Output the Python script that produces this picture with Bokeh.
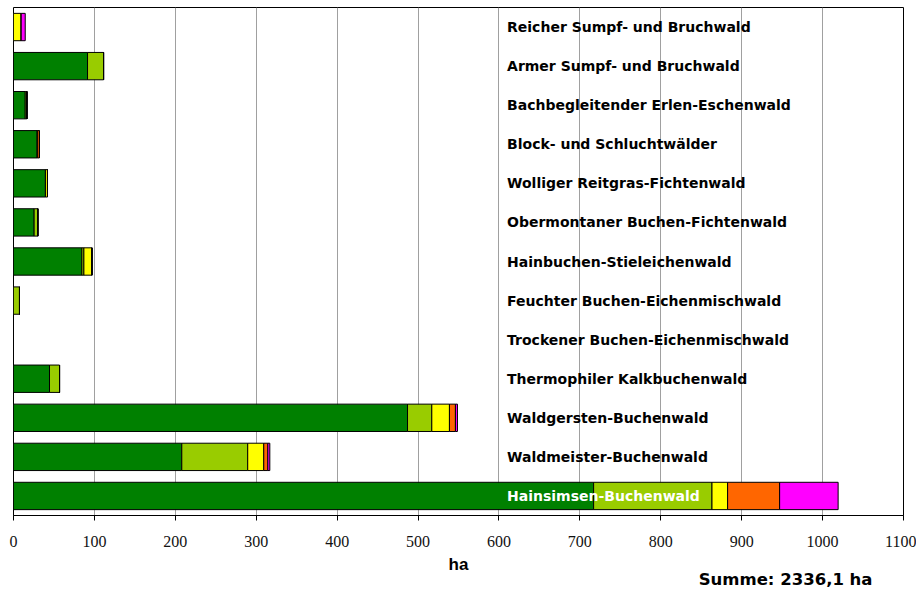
from bokeh.plotting import figure
from bokeh.models import ColumnDataSource, FactorRange, Range1d, FixedTicker, Title
from bokeh.core.properties import value
from bokeh.embed import file_html
from bokeh.resources import INLINE

# ---- data (top to bottom) ----
categories = [
    "Reicher Sumpf- und Bruchwald",
    "Armer Sumpf- und Bruchwald",
    "Bachbegleitender Erlen-Eschenwald",
    "Block- und Schluchtwälder",
    "Wolliger Reitgras-Fichtenwald",
    "Obermontaner Buchen-Fichtenwald",
    "Hainbuchen-Stieleichenwald",
    "Feuchter Buchen-Eichenmischwald",
    "Trockener Buchen-Eichenmischwald",
    "Thermophiler Kalkbuchenwald",
    "Waldgersten-Buchenwald",
    "Waldmeister-Buchenwald",
    "Hainsimsen-Buchenwald",
]
s_green = [0, 91.5, 14.5, 29.5, 39.5, 25.5, 84.5, 0, 0, 44.5, 487, 208, 717]
s_yellowgreen = [0, 19.8, 2, 0, 0, 4.5, 2.5, 7.4, 0, 12.4, 30, 81.5, 146.3]
s_yellow = [9.5, 0, 0, 0, 2.5, 0, 10, 0, 0, 0, 21.8, 19.8, 19.3]
s_orange = [0, 0, 0, 2.5, 0, 0, 0, 0, 0, 0, 7.4, 5, 64.3]
s_magenta = [5, 0, 0, 0, 0, 0, 0, 0, 0, 0, 2.5, 2.5, 72.3]
x_ticks = [0, 100, 200, 300, 400, 500, 600, 700, 800, 900, 1000, 1100]
axis_title = "ha"
total_text = "Summe: 2336,1 ha"

series = ["green", "yellowgreen", "yellow", "orange", "magenta"]
colors = ["#008000", "#99CC00", "#FFFF00", "#FF6600", "#FF00FF"]

src = ColumnDataSource(dict(
    cat=categories,
    green=s_green, yellowgreen=s_yellowgreen, yellow=s_yellow,
    orange=s_orange, magenta=s_magenta,
))

p = figure(width=916, height=592, output_backend="svg", toolbar_location=None,
           y_range=FactorRange(factors=list(reversed(categories))),
           x_range=Range1d(0, 1100),
           min_border_left=13, min_border_right=13, min_border_top=7, min_border_bottom=77)

p.hbar_stack(series, y="cat", height=0.7, color=colors, source=src,
             line_color="black", line_width=1)

# category labels
LABEL_X = 610
lab_src = ColumnDataSource(dict(
    x=[LABEL_X] * len(categories),
    y=categories,
    t=categories,
    c=["white" if c == "Hainsimsen-Buchenwald" else "black" for c in categories],
))
p.text(x="x", y="y", text="t", text_color="c", source=lab_src,
       text_font=value("DejaVu Sans"), text_font_style="bold",
       text_font_size="14px", text_baseline="middle", text_align="left")

# axes
p.yaxis.visible = False
p.ygrid.visible = False
p.xgrid.ticker = FixedTicker(ticks=x_ticks)
p.xgrid.grid_line_color = "#a0a0a0"
p.xgrid.grid_line_width = 1
p.xaxis.ticker = FixedTicker(ticks=x_ticks)
p.xaxis.axis_line_color = "black"
p.xaxis.major_tick_line_color = "black"
p.xaxis.major_tick_in = 0
p.xaxis.major_tick_out = 5
p.xaxis.minor_tick_line_color = None
p.xaxis.major_label_text_font = "Liberation Sans Narrow"
p.xaxis.major_label_text_font_size = "16px"
p.xaxis.major_label_text_color = "#111111"
p.xaxis.major_label_standoff = 15

p.outline_line_color = "black"
p.outline_line_width = 1

p.add_layout(Title(text=axis_title, align="center", text_font="Liberation Sans",
                   text_font_style="bold", text_font_size="17px",
                   text_color="black", standoff=6), "below")
p.add_layout(Title(text=total_text, align="right", offset=31,
                   text_font="DejaVu Sans", text_font_style="bold",
                   text_font_size="16.5px", text_color="black", standoff=-17), "below")

open("out.html", "w").write(file_html(p, INLINE))
